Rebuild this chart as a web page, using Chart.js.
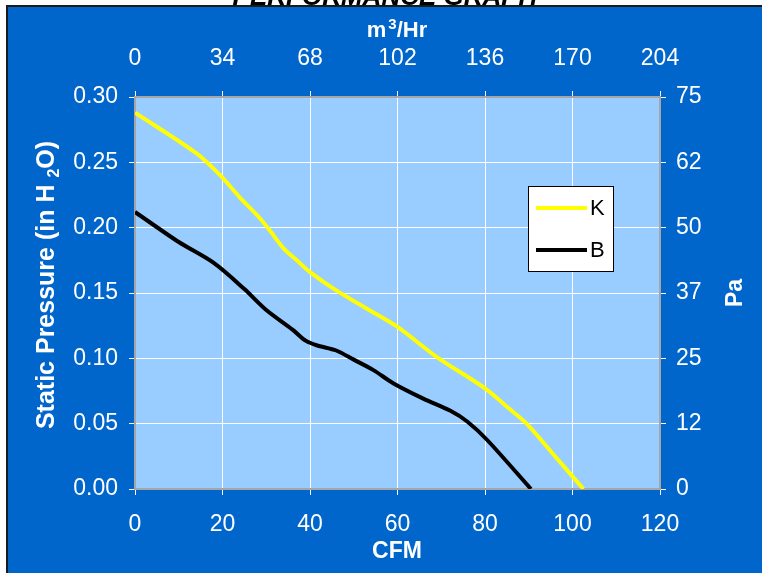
<!DOCTYPE html>
<html>
<head>
<meta charset="utf-8">
<script src="https://cdn.jsdelivr.net/npm/chart.js@4/dist/chart.umd.min.js"></script>
<style>
  html, body { margin: 0; padding: 0; background: #ffffff; }
  #wrap { position: absolute; left: 0; top: 0; width: 762px; height: 573px; }
</style>
</head>
<body>
<div id="wrap"><canvas id="c" width="762" height="573"></canvas></div>
<script>
// ---- data ----
const seriesNames = ['K', 'B'];
const cfmK = [0, 14, 19.5, 24, 28.6, 31, 34, 37, 40, 46, 53, 60, 69, 80, 85, 89.5, 95.5, 102.5];
const pressureK = [0.288, 0.257, 0.240, 0.223, 0.207, 0.197, 0.184, 0.175, 0.166, 0.152, 0.138, 0.124, 0.101, 0.077, 0.063, 0.050, 0.027, 0.000];
const cfmB = [0, 10, 18, 25, 30, 36, 39, 41.5, 46, 50, 54.5, 59, 66, 72, 76, 80.5, 90.5];
const pressureB = [0.212, 0.189, 0.173, 0.153, 0.137, 0.122, 0.1135, 0.110, 0.106, 0.099, 0.091, 0.081, 0.069, 0.060, 0.0515, 0.0375, 0.000];
const paTickLabels = ['0', '12', '25', '37', '50', '62', '75'];
const titleText = 'PERFORMANCE GRAPH';

const FONT = "'Liberation Sans', Arial, sans-serif";
const seriesColors = ['#FFFF00', '#000000'];

function toPoints(xs, ys) { return xs.map((x, i) => ({ x: x, y: ys[i] })); }

const backgroundPlugin = {
  id: 'bg',
  beforeDraw(chart) {
    const ctx = chart.ctx, a = chart.chartArea;
    ctx.save();
    ctx.fillStyle = '#ffffff';
    ctx.fillRect(0, 0, chart.width, chart.height);
    // cut-off title
    ctx.fillStyle = '#000000';
    ctx.font = "italic bold 26px " + FONT;
    ctx.textAlign = 'center';
    ctx.textBaseline = 'alphabetic';
    ctx.fillText(titleText, 385, 5);
    // blue frame
    ctx.fillStyle = '#1a1a1a';
    ctx.fillRect(6, 5, chart.width - 6, chart.height - 5);
    ctx.fillStyle = '#0066CC';
    ctx.fillRect(8, 7, chart.width - 8, chart.height - 7);
    // plot area
    ctx.fillStyle = '#99CCFF';
    ctx.fillRect(a.left, a.top, a.right - a.left, a.bottom - a.top);
    ctx.restore();
  },
  beforeDatasetsDraw(chart) {
    const ctx = chart.ctx, a = chart.chartArea;
    ctx.save();
    ctx.strokeStyle = '#A6A6A6';
    ctx.lineWidth = 2;
    ctx.strokeRect(a.left, a.top, a.right - a.left, a.bottom - a.top);
    ctx.restore();
  },
  afterDraw(chart) {
    const ctx = chart.ctx;
    ctx.save();
    ctx.fillStyle = '#ffffff';
    ctx.textBaseline = 'alphabetic';
    // top title m3/Hr
    ctx.font = "bold 22px " + FONT;
    const w1 = ctx.measureText('m').width;
    ctx.font = "bold 15px " + FONT;
    const w2 = ctx.measureText('3').width;
    ctx.font = "bold 22px " + FONT;
    const w3 = ctx.measureText('/Hr').width;
    let x = 397 - (w1 + w2 + 2 + w3) / 2;
    ctx.textAlign = 'left';
    ctx.fillText('m', x, 37);
    ctx.font = "bold 15px " + FONT;
    ctx.fillText('3', x + w1 + 2, 29);
    ctx.font = "bold 22px " + FONT;
    ctx.fillText('/Hr', x + w1 + w2 + 2, 37);
    // CFM
    ctx.font = "bold 23px " + FONT;
    ctx.textAlign = 'center';
    ctx.fillText('CFM', 397, 558);
    // Left title, rotated
    ctx.save();
    ctx.translate(54, 285);
    ctx.rotate(-Math.PI / 2);
    ctx.font = "bold 25px " + FONT;
    const pA = 'Static Pressure (in H ';
    const pB = 'O)';
    const wa = ctx.measureText(pA).width;
    const wb = ctx.measureText(pB).width;
    ctx.font = "bold 16px " + FONT;
    const ws = ctx.measureText('2').width;
    const total = wa + ws + wb;
    let sx = -total / 2;
    ctx.textAlign = 'left';
    ctx.font = "bold 25px " + FONT;
    ctx.fillText(pA, sx, 0);
    ctx.font = "bold 16px " + FONT;
    ctx.fillText('2', sx + wa, 5);
    ctx.font = "bold 25px " + FONT;
    ctx.fillText(pB, sx + wa + ws, 0);
    ctx.restore();
    // Right title Pa
    ctx.save();
    ctx.translate(742, 293);
    ctx.rotate(-Math.PI / 2);
    ctx.font = "bold 23px " + FONT;
    ctx.textAlign = 'center';
    ctx.fillText('Pa', 0, 0);
    ctx.restore();
    // legend
    const lx = 528, ly = 186, lw = 85, lh = 85;
    ctx.fillStyle = '#ffffff';
    ctx.fillRect(lx, ly, lw, lh);
    ctx.strokeStyle = '#000000';
    ctx.lineWidth = 1;
    ctx.strokeRect(lx + 0.5, ly + 0.5, lw, lh);
    chart.data.datasets.forEach((ds, i) => {
      const yy = 208 + i * 42;
      ctx.strokeStyle = ds.borderColor;
      ctx.lineWidth = 4;
      ctx.beginPath();
      ctx.moveTo(536, yy);
      ctx.lineTo(587, yy);
      ctx.stroke();
      ctx.fillStyle = '#000000';
      ctx.font = "22px " + FONT;
      ctx.textAlign = 'left';
      ctx.textBaseline = 'middle';
      ctx.fillText(ds.label, 590, yy + 1);
    });
    ctx.restore();
  }
};

const tickFont = { family: FONT, size: 23 };

new Chart(document.getElementById('c'), {
  type: 'line',
  data: {
    datasets: [
      { label: seriesNames[0], data: toPoints(cfmK, pressureK), borderColor: seriesColors[0], borderWidth: 4, pointRadius: 0, tension: 0.3, fill: false, xAxisID: 'x', yAxisID: 'y' },
      { label: seriesNames[1], data: toPoints(cfmB, pressureB), borderColor: seriesColors[1], borderWidth: 4, pointRadius: 0, tension: 0.3, fill: false, xAxisID: 'x', yAxisID: 'y' }
    ]
  },
  options: {
    responsive: false,
    animation: false,
    devicePixelRatio: 1,
    layout: { padding: 0, autoPadding: false },
    plugins: { legend: { display: false }, tooltip: { enabled: false }, title: { display: false } },
    scales: {
      x: {
        type: 'linear', position: 'bottom', min: 0, max: 120,
        ticks: { stepSize: 20, color: '#ffffff', font: tickFont, padding: 16, maxRotation: 0 },
        grid: { color: '#ffffff', lineWidth: 1, tickLength: 6, tickColor: '#ffffff' },
        border: { display: false },
        afterFit(s) { s.height = 84; }
      },
      x2: {
        type: 'linear', position: 'top', min: 0, max: 204,
        ticks: { stepSize: 34, color: '#ffffff', font: tickFont, padding: 19, maxRotation: 0 },
        grid: { drawOnChartArea: false, tickLength: 6, tickColor: '#ffffff' },
        border: { display: false },
        afterFit(s) { s.height = 97; }
      },
      y: {
        type: 'linear', position: 'left', min: 0, max: 0.30,
        ticks: { stepSize: 0.05, color: '#ffffff', font: tickFont, padding: 11, callback: v => Number(v).toFixed(2) },
        grid: { color: '#ffffff', lineWidth: 1, tickLength: 6, tickColor: '#ffffff' },
        border: { display: false },
        afterFit(s) { s.width = 135; }
      },
      y2: {
        type: 'linear', position: 'right', min: 0, max: 75,
        ticks: { stepSize: 12.5, color: '#ffffff', font: tickFont, padding: 10, callback: (v, i) => paTickLabels[i] },
        grid: { drawOnChartArea: false, tickLength: 6, tickColor: '#ffffff' },
        border: { display: false },
        afterFit(s) { s.width = 102; }
      }
    }
  },
  plugins: [backgroundPlugin]
});
</script>
</body>
</html>
